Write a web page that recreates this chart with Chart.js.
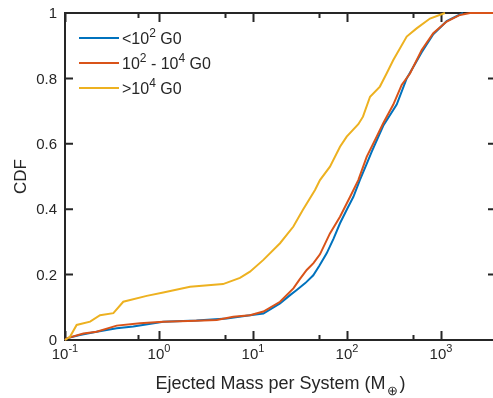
<!DOCTYPE html>
<html>
<head>
<meta charset="utf-8">
<script src="https://cdn.jsdelivr.net/npm/chart.js@4.4.1/dist/chart.umd.min.js"></script>
<style>
  html, body { margin: 0; padding: 0; background: #fff; overflow: hidden; }
  #wrap { width: 498px; height: 398px; }
</style>
</head>
<body>
<div id="wrap"><canvas id="cdfChart" width="498" height="398"></canvas></div>
<script>
// Series names (^ = superscript, _ = subscript)
const seriesNames = ['<10^2 G0', '10^2 - 10^4 G0', '>10^4 G0'];
const seriesColors = ['#0072BD', '#D95319', '#EDB120'];

// <10^2 G0
const lowX = [0.1, 0.104, 0.144, 0.217, 0.355, 0.533, 1.11, 2.5, 5.25, 9.29, 12.9, 19.4, 25, 29.2, 36, 43.8, 51, 60.8, 72, 84.3, 100, 117, 137, 160, 183, 243, 338, 432, 624, 828, 1150, 1714];
const lowY = [0, 0.005, 0.015, 0.025, 0.036, 0.041, 0.056, 0.06, 0.066, 0.076, 0.081, 0.112, 0.138, 0.153, 0.174, 0.198, 0.228, 0.265, 0.31, 0.357, 0.4, 0.438, 0.489, 0.535, 0.575, 0.655, 0.72, 0.8, 0.88, 0.935, 0.975, 1];

// 10^2 - 10^4 G0
const midX = [0.1, 0.104, 0.157, 0.217, 0.355, 0.628, 1.11, 2.5, 4.11, 6.17, 9.29, 12.9, 19.4, 26.9, 31.5, 37.3, 44, 51.6, 65.9, 84.3, 108, 132, 162, 207, 243, 311, 382, 468, 624, 828, 1150, 1593, 2036, 3850];
const midY = [0, 0.005, 0.02, 0.025, 0.044, 0.051, 0.056, 0.059, 0.061, 0.071, 0.076, 0.087, 0.117, 0.158, 0.186, 0.214, 0.235, 0.262, 0.326, 0.377, 0.438, 0.489, 0.56, 0.622, 0.663, 0.72, 0.78, 0.815, 0.887, 0.938, 0.974, 0.994, 1, 1];

// >10^4 G0
const highX = [0.1, 0.113, 0.133, 0.185, 0.236, 0.327, 0.417, 0.74, 1.11, 2.14, 4.8, 7.27, 9.29, 12.9, 19.4, 26.9, 34.0, 45.7, 51.6, 65.9, 84.3, 99.3, 132, 148, 176, 224, 264, 311, 432, 551, 764, 1103];
const highY = [0, 0.01, 0.046, 0.056, 0.076, 0.082, 0.117, 0.135, 0.145, 0.163, 0.171, 0.19, 0.209, 0.245, 0.296, 0.347, 0.398, 0.459, 0.489, 0.53, 0.591, 0.622, 0.66, 0.683, 0.744, 0.775, 0.815, 0.856, 0.928, 0.953, 0.983, 1];

// Axes
const xMin = 0.1, xMax = 3850;
const yTicks = [0, 0.2, 0.4, 0.6, 0.8, 1];
const yTickLabels = ['0', '0.2', '0.4', '0.6', '0.8', '1'];
const xTickExps = [-1, 0, 1, 2, 3];
const xTitle = 'Ejected Mass per System (M_\u2295)';
const yTitle = 'CDF';

const fontFamily = '"Liberation Sans", Arial, Helvetica, sans-serif';
const axisColor = '#262626';

function toPoints(xs, ys) {
  return xs.map((x, i) => ({ x: x, y: ys[i] }));
}

// split "10^2 G0" into normal / superscript / subscript parts
function splitRich(label) {
  const out = [];
  let last = 0;
  label.replace(/\^(-?\d+)|_(.)/g, (m, sup, sub, idx) => {
    if (idx > last) out.push({ t: label.slice(last, idx), kind: 'n' });
    out.push(sup !== undefined ? { t: sup, kind: 'sup' } : { t: sub, kind: 'sub' });
    last = idx + m.length;
  });
  if (last < label.length) out.push({ t: label.slice(last), kind: 'n' });
  return out;
}

function drawRich(ctx, label, x, y, size, align) {
  const parts = splitRich(label);
  const small = Math.round(size * 0.72);
  const widths = parts.map(p => {
    ctx.font = (p.kind === 'n' ? size : small) + 'px ' + fontFamily;
    return ctx.measureText(p.t).width + (p.kind === 'sub' ? 3 : 0);
  });
  const total = widths.reduce((s, w) => s + w, 0);
  let cx = align === 'center' ? x - total / 2 : x;
  ctx.textAlign = 'left';
  ctx.textBaseline = 'alphabetic';
  parts.forEach((p, i) => {
    ctx.font = (p.kind === 'n' ? size : small) + 'px ' + fontFamily;
    let dy = 0;
    if (p.kind === 'sup') dy = -size * 0.45;
    if (p.kind === 'sub') dy = size * 0.35;
    ctx.fillText(p.t, cx + (p.kind === 'sub' ? 1.5 : 0), y + dy);
    cx += widths[i];
  });
}

// MATLAB-like box axes with inward ticks
const matlabAxes = {
  id: 'matlabAxes',
  beforeDatasetsDraw(chart) {
    const { ctx, chartArea: a, scales: { x, y } } = chart;
    ctx.save();
    ctx.strokeStyle = axisColor;
    ctx.lineWidth = 2;
    ctx.strokeRect(a.left, a.top, a.right - a.left, a.bottom - a.top);

    // x ticks (log scale ticks from Chart.js)
    x.ticks.forEach(t => {
      const v = t.value;
      if (v < xMin || v > xMax) return;
      const lg = Math.log10(v);
      const major = Math.abs(lg - Math.round(lg)) < 1e-6;
      const len = major ? 9 : 5;
      const px = Math.round(x.getPixelForValue(v)) + 0.5;
      ctx.beginPath();
      ctx.moveTo(px, a.bottom); ctx.lineTo(px, a.bottom - len);
      ctx.moveTo(px, a.top); ctx.lineTo(px, a.top + len);
      ctx.stroke();
    });

    // y ticks
    yTicks.forEach(v => {
      const py = y.getPixelForValue(v);
      ctx.beginPath();
      ctx.moveTo(a.left, py); ctx.lineTo(a.left + 8, py);
      ctx.moveTo(a.right, py); ctx.lineTo(a.right - 8, py);
      ctx.stroke();
    });

    // tick labels
    ctx.fillStyle = axisColor;
    ctx.font = '15px ' + fontFamily;
    ctx.textAlign = 'right';
    ctx.textBaseline = 'middle';
    yTicks.forEach((v, i) => {
      ctx.fillText(yTickLabels[i], a.left - 8, y.getPixelForValue(v) + 1);
    });
    xTickExps.forEach(e => {
      drawRich(ctx, '10^' + e, x.getPixelForValue(Math.pow(10, e)), a.bottom + 19, 15, 'center');
    });

    // axis titles
    drawRich(ctx, xTitle, (a.left + a.right) / 2, a.bottom + 49, 18, 'center');
    ctx.save();
    ctx.translate(a.left - 39, (a.top + a.bottom) / 2);
    ctx.rotate(-Math.PI / 2);
    ctx.font = '17px ' + fontFamily;
    ctx.textAlign = 'center';
    ctx.textBaseline = 'alphabetic';
    ctx.fillText(yTitle, 0, 0);
    ctx.restore();
    ctx.restore();
  },
  afterDatasetsDraw(chart) {
    // legend without box, top-left inside the axes
    const { ctx, chartArea: a } = chart;
    ctx.save();
    seriesNames.forEach((name, i) => {
      const ly = a.top + 25 + i * 25;
      ctx.strokeStyle = seriesColors[i];
      ctx.lineWidth = 2;
      ctx.beginPath();
      ctx.moveTo(a.left + 14, ly); ctx.lineTo(a.left + 54, ly);
      ctx.stroke();
      ctx.fillStyle = axisColor;
      drawRich(ctx, name, a.left + 57, ly + 6, 16, 'left');
    });
    ctx.restore();
  }
};

const ctx = document.getElementById('cdfChart').getContext('2d');
new Chart(ctx, {
  type: 'line',
  data: {
    datasets: [
      { label: seriesNames[0], data: toPoints(lowX, lowY), borderColor: seriesColors[0], order: 2 },
      { label: seriesNames[1], data: toPoints(midX, midY), borderColor: seriesColors[1], order: 1 },
      { label: seriesNames[2], data: toPoints(highX, highY), borderColor: seriesColors[2], order: 0 }
    ]
  },
  options: {
    responsive: false,
    animation: false,
    devicePixelRatio: 1,
    layout: { padding: { left: 65, top: 13, right: 2, bottom: 58 } },
    elements: {
      line: { borderWidth: 2, tension: 0, fill: false },
      point: { radius: 0 }
    },
    datasets: { line: { clip: false } },
    scales: {
      x: { type: 'logarithmic', min: xMin, max: xMax, display: false },
      y: { type: 'linear', min: 0, max: 1, display: false }
    },
    plugins: {
      legend: { display: false },
      tooltip: { enabled: false }
    }
  },
  plugins: [matlabAxes]
});
</script>
</body>
</html>
